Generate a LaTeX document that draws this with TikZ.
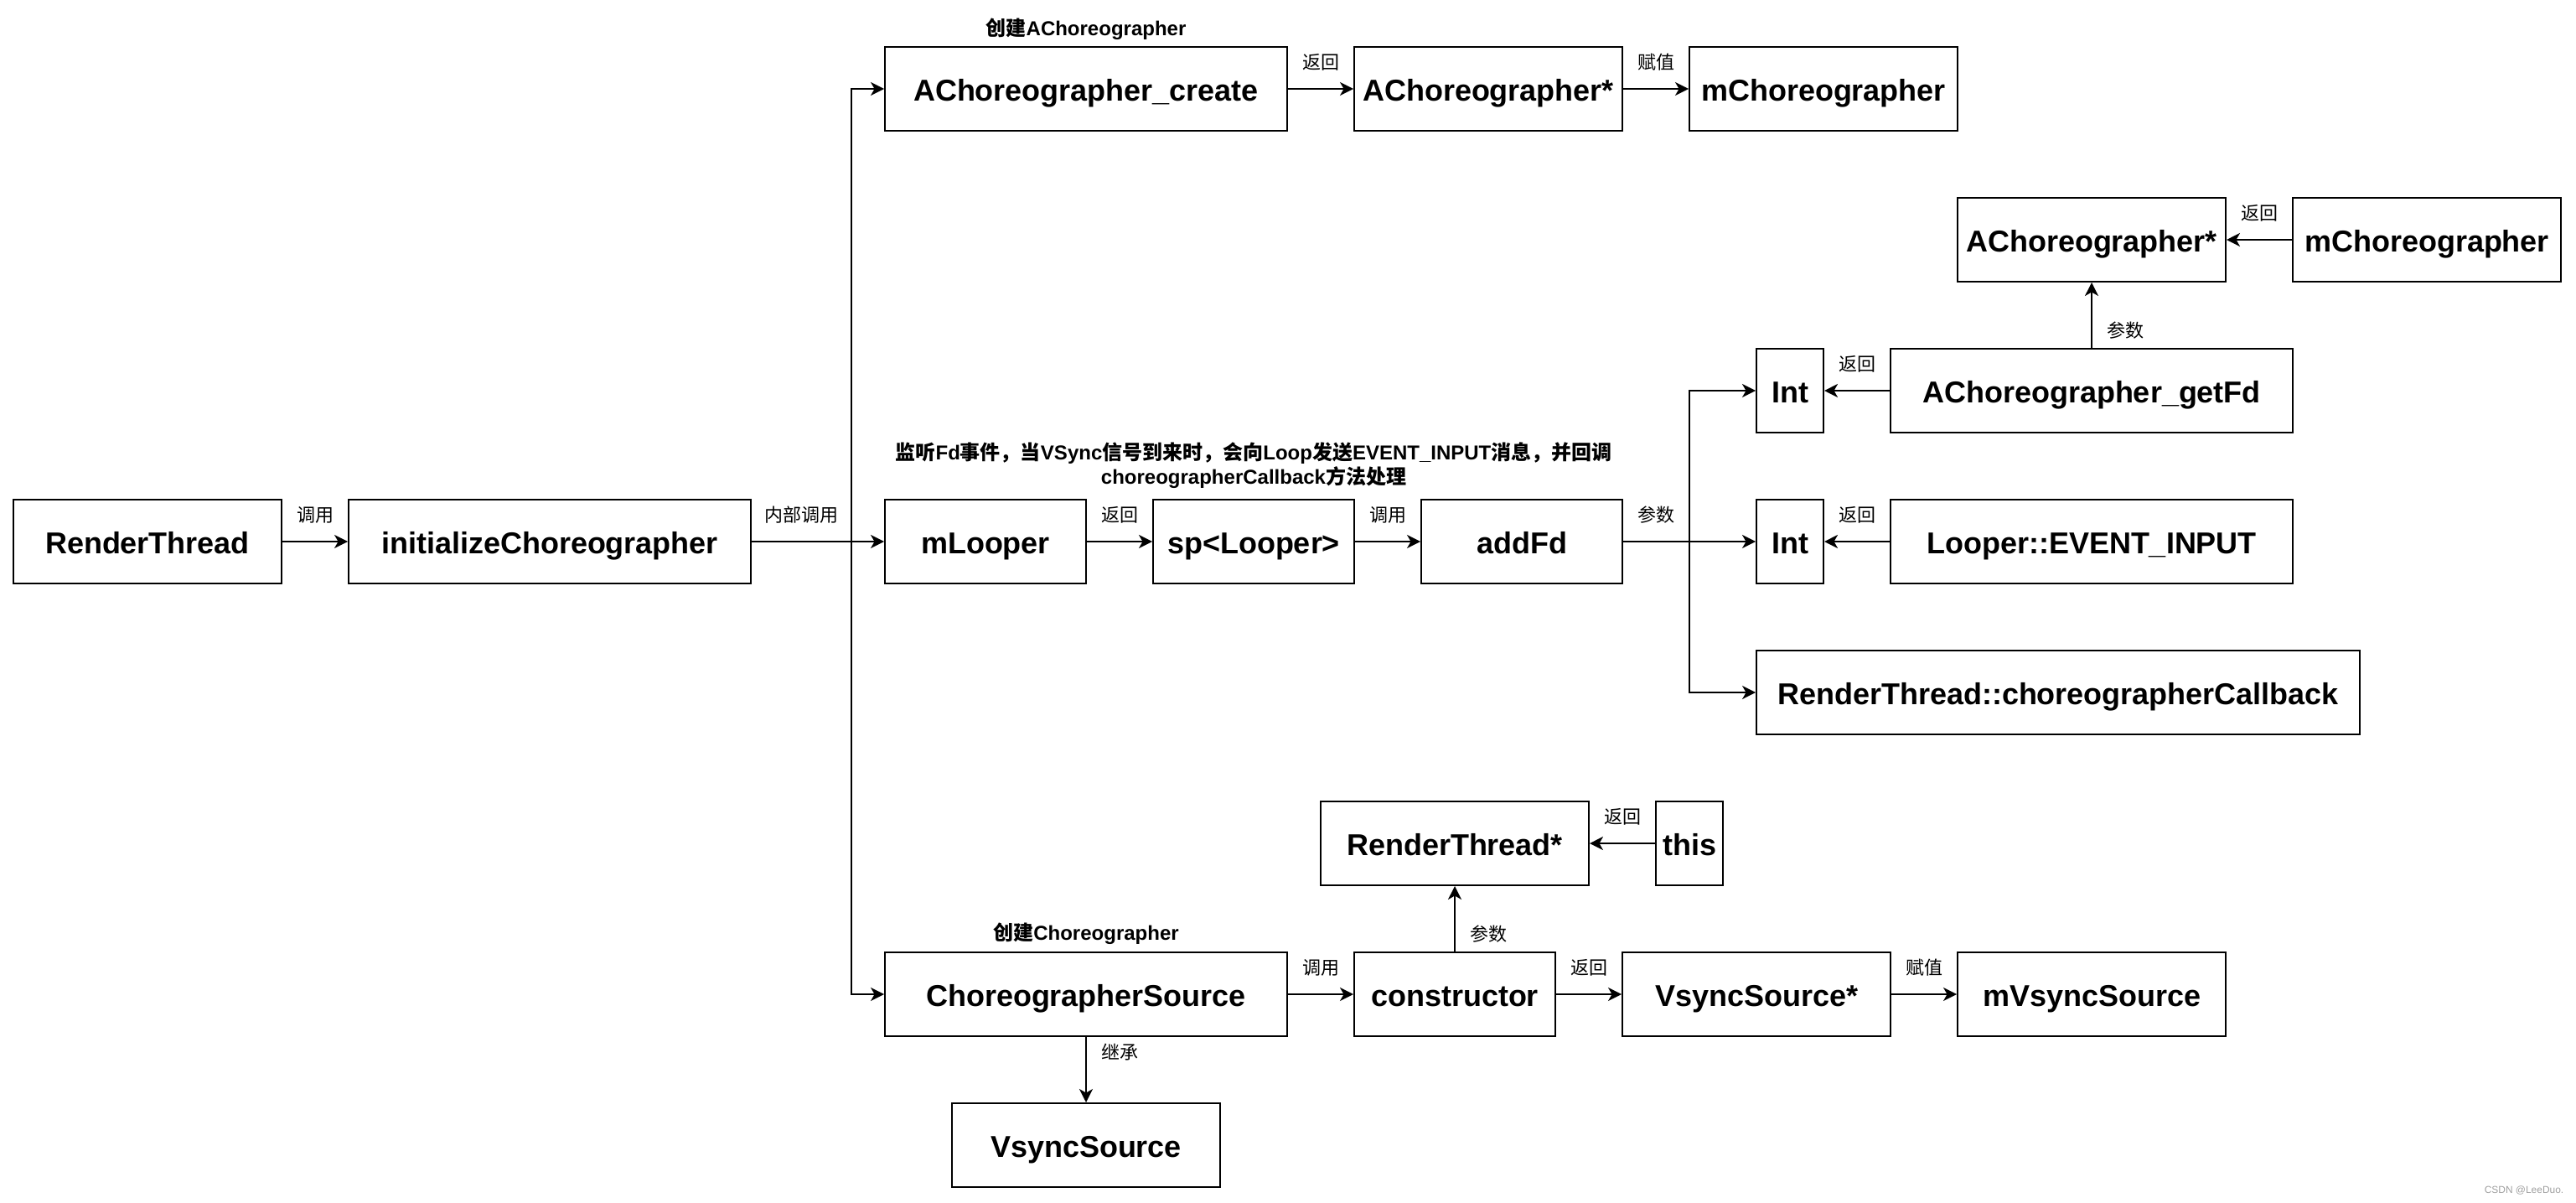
\documentclass[tikz,border=0pt]{standalone}
\usepackage{fontspec}
\setmainfont{Liberation Sans}
\newfontfamily\cjk{Noto Sans CJK SC}
\usetikzlibrary{arrows.meta}
\newcommand{\zh}[1]{{\cjk #1}}
\newcommand{\boxfont}{\fontsize{10.24pt}{12pt}\selectfont\bfseries}
\newcommand{\labfont}{\fontsize{6.26pt}{7.5pt}\selectfont\cjk}
\newcommand{\notefont}{\fontsize{6.83pt}{8.25pt}\selectfont\bfseries}
\definecolor{wmgray}{HTML}{A0A0A0}
\begin{document}
\begin{tikzpicture}[x=0.02cm, y=-0.02cm,
  box/.style={draw=black, line width=0.57pt, fill=white, minimum height=1cm,
    inner sep=0pt, font=\boxfont, text height=9.2pt, text depth=0.7pt},
  lbl/.style={font=\labfont, inner sep=0pt, yshift=0.315cm},
  vlbl/.style={font=\labfont, inner sep=0pt},
  note/.style={font=\notefont, inner sep=0pt, align=center},
  ln/.style={line width=0.57pt},
  arr/.style={line width=0.57pt, -{Stealth[length=0.16cm, width=0.16cm, inset=0.045cm]}}
]
\fill[white] (0,0) rectangle (1537,717);
\useasboundingbox (0,0) rectangle (1537,717);

% main row
\node[box, minimum width=3.2cm] (rt) at (88,323) {RenderThread};
\node[box, minimum width=4.8cm] (init) at (328,323) {initializeChoreographer};
\node[box, minimum width=2.4cm] (mlooper) at (588,323) {mLooper};
\node[box, minimum width=2.4cm] (sp) at (748,323) {sp<Looper>};
\node[box, minimum width=2.4cm] (addfd) at (908,323) {addFd};
\node[box, minimum width=0.8cm] (int2) at (1068,323) {Int};
\node[box, minimum width=4.8cm] (evin) at (1248,323) {Looper::EVENT\_INPUT};

% top row
\node[box, minimum width=4.8cm] (create) at (648,53) {AChoreographer\_create};
\node[box, minimum width=3.2cm] (aptr) at (888,53) {AChoreographer*};
\node[box, minimum width=3.2cm] (mch) at (1088,53) {mChoreographer};

% getFd block
\node[box, minimum width=3.2cm] (aptrr) at (1248,143) {AChoreographer*};
\node[box, minimum width=3.2cm] (mchr) at (1448,143) {mChoreographer};
\node[box, minimum width=0.8cm] (int1) at (1068,233) {Int};
\node[box, minimum width=4.8cm] (getfd) at (1248,233) {AChoreographer\_getFd};
\node[box, minimum width=7.2cm] (rtcb) at (1228,413) {RenderThread::choreographerCallback};

% bottom block
\node[box, minimum width=3.2cm] (rtptr) at (868,503) {RenderThread*};
\node[box, minimum width=0.8cm] (this) at (1008,503) {this};
\node[box, minimum width=4.8cm] (cs) at (648,593) {ChoreographerSource};
\node[box, minimum width=2.4cm] (ctor) at (868,593) {constructor};
\node[box, minimum width=3.2cm] (vsptr) at (1048,593) {VsyncSource*};
\node[box, minimum width=3.2cm] (mvs) at (1248,593) {mVsyncSource};
\node[box, minimum width=3.2cm] (vs) at (648,683) {VsyncSource};

% bus points
\coordinate (bus1) at (508,323);
\coordinate (bus2) at (1008,323);

% connectors
\draw[arr] (rt) -- node[lbl] (l1) {调用} (init);
\draw[ln] (init.east) -- node[lbl] (l2) {内部调用} (bus1);
\draw[arr] (bus1) -- (mlooper.west);
\draw[arr] (bus1) |- (create.west);
\draw[arr] (bus1) |- (cs.west);

\draw[arr] (create) -- node[lbl] (l3) {返回} (aptr);
\draw[arr] (aptr) -- node[lbl] (l4) {赋值} (mch);

\draw[arr] (mlooper) -- node[lbl] (l5) {返回} (sp);
\draw[arr] (sp) -- node[lbl] (l6) {调用} (addfd);
\draw[ln] (addfd.east) -- node[lbl] (l7) {参数} (bus2);
\draw[arr] (bus2) -- (int2.west);
\draw[arr] (bus2) |- (int1.west);
\draw[arr] (bus2) |- (rtcb.west);

\draw[arr] (getfd) -- node[lbl] (l8) {返回} (int1);
\draw[arr] (getfd) -- node[vlbl, xshift=0.4cm, yshift=-0.18cm] (l9) {参数} (aptrr);
\draw[arr] (mchr) -- node[lbl] (l10) {返回} (aptrr);
\draw[arr] (evin) -- node[lbl] (l11) {返回} (int2);

\draw[arr] (this) -- node[lbl] (l12) {返回} (rtptr);
\draw[arr] (ctor) -- node[vlbl, xshift=0.4cm, yshift=-0.18cm] (l13) {参数} (rtptr);
\draw[arr] (cs) -- node[lbl] (l14) {调用} (ctor);
\draw[arr] (ctor) -- node[lbl] (l15) {返回} (vsptr);
\draw[arr] (vsptr) -- node[lbl] (l16) {赋值} (mvs);
\draw[arr] (cs) -- node[vlbl, xshift=0.4cm, yshift=0.21cm] (l17) {继承} (vs);

% annotations
\node[note] (n1) at (648,17.5) {\zh{创建}AChoreographer};
\node[note] (n2) at (648,557) {\zh{创建}Choreographer};
\node[note] (n3) at (748,277.75) {\zh{监听}Fd\zh{事件，当}VSync\zh{信号到来时，会向}Loop\zh{发送}EVENT\_INPUT\zh{消息，并回调}\\choreographerCallback\zh{方法处理}};

% watermark
\node[font=\fontsize{3.4pt}{4pt}\selectfont, text=wmgray, inner sep=0pt] (wm) at (1506,710) {CSDN @LeeDuo.};
\end{tikzpicture}
\end{document}
